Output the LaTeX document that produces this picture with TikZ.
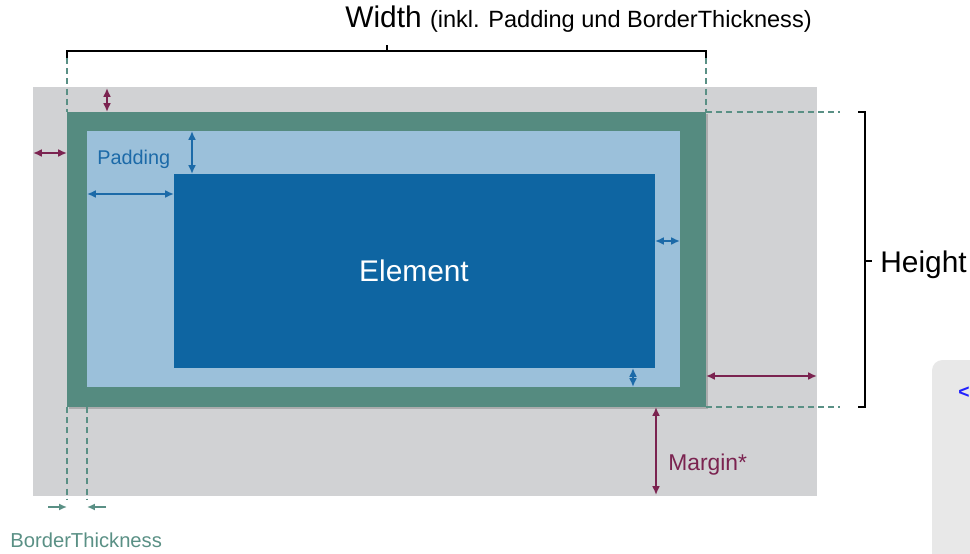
\documentclass[tikz,border=0pt]{standalone}
\usepackage{fontspec}
\setmainfont{Liberation Sans}
\usepackage{xcolor}
\usetikzlibrary{arrows.meta}

\definecolor{marginGray}{HTML}{D1D2D4}
\definecolor{borderGreen}{HTML}{558B80}
\definecolor{padBlue}{HTML}{9BC0DA}
\definecolor{elemBlue}{HTML}{0E65A2}
\definecolor{marginRed}{HTML}{7B2350}
\definecolor{padArrow}{HTML}{1C6AA8}
\definecolor{guideGreen}{HTML}{5A9085}
\definecolor{panelGray}{HTML}{E8E8E8}
\definecolor{codeBlue}{HTML}{2222FF}

\tikzset{
	marginarrow/.style={{Latex[length=5pt,width=4.5pt]}-{Latex[length=5pt,width=4.5pt]}, marginRed, line width=1.1pt},
	padarrow/.style={{Latex[length=5pt,width=4.5pt]}-{Latex[length=5pt,width=4.5pt]}, padArrow, line width=1.1pt},
	borderarrow/.style={-{Latex[length=4.5pt,width=4pt]}, guideGreen, line width=1pt},
	guide/.style={guideGreen, dash pattern=on 3.4pt off 2.4pt, line width=0.8pt},
	brace/.style={black, line width=0.8pt}
}

\begin{document}
\begin{tikzpicture}[x=0.02cm, y=-0.02cm]
		\useasboundingbox (0,0) rectangle (970,554);

		% cut-off panel on the right
		\begin{scope}
			\clip (0,0) rectangle (970,554);
			\fill[panelGray, rounded corners=6pt] (932,360) rectangle (1020,600);
		\end{scope}
		\node[anchor=east, text=codeBlue, font=\bfseries\fontsize{11}{13}\selectfont, inner sep=0] (codechar) at (970,393) {<};

		% box model
		\fill[marginGray] (33,87) rectangle (817,496);
		\fill[black, opacity=0.18] (69,114) rectangle (708,409);
		\fill[borderGreen] (67,112) rectangle (706,407);
		\fill[padBlue] (87,131) rectangle (680,387);
		\fill[elemBlue] (174,174) rectangle (655,368);

		\node[text=white, font=\fontsize{17}{20}\selectfont] (element) at (414,271) {Element};

		% guide lines
		\draw[guide] (67,58) -- (67,112);
		\draw[guide] (706,58) -- (706,112);
		\draw[guide] (706,112) -- (840,112);
		\draw[guide] (706,407) -- (840,407);
		\draw[guide] (67,407) -- (67,500);
		\draw[guide] (87,407) -- (87,500);

		% width and height braces
		\draw[brace] (67,58) -- (67,51) -- (706,51) -- (706,58);
		\draw[brace] (387,51) -- (387,45);
		\node[anchor=base west, inner sep=0] (widthlbl) at (345,28) {\fontsize{17}{20}\selectfont Width \fontsize{13.4}{16}\selectfont(inkl. Padding und BorderThickness)};

		\draw[brace] (858,112) -- (865,112) -- (865,407) -- (858,407);
		\draw[brace] (865,261) -- (872,261);
		\node[anchor=base west, inner sep=0, font=\fontsize{17}{20}\selectfont] (heightlbl) at (880,272) {Height};

		% margin
		\draw[marginarrow] (107,88) -- (107,112);
		\draw[marginarrow] (33,153) -- (67,153);
		\draw[marginarrow] (706,376) -- (817,376);
		\draw[marginarrow] (656,407) -- (656,495);
		\node[anchor=base west, inner sep=0, text=marginRed, font=\fontsize{13}{15}\selectfont] (marginlbl) at (668,470) {Margin*};

		% padding
		\draw[padarrow] (192,131) -- (192,174);
		\draw[padarrow] (87,194) -- (174,194);
		\draw[padarrow] (655,241) -- (680,241);
		\draw[padarrow] (633,368) -- (633,387);
		\node[anchor=base west, inner sep=0, text=padArrow, font=\fontsize{11.3}{13}\selectfont] (paddinglbl) at (97,164) {Padding};

		% border thickness
		\draw[borderarrow] (48,507) -- (67,507);
		\draw[borderarrow] (106,507) -- (87,507);
		\node[anchor=base west, inner sep=0, text=guideGreen, font=\fontsize{11.5}{13}\selectfont] (borderlbl) at (10,547) {BorderThickness};
	\end{tikzpicture}
\end{document}
